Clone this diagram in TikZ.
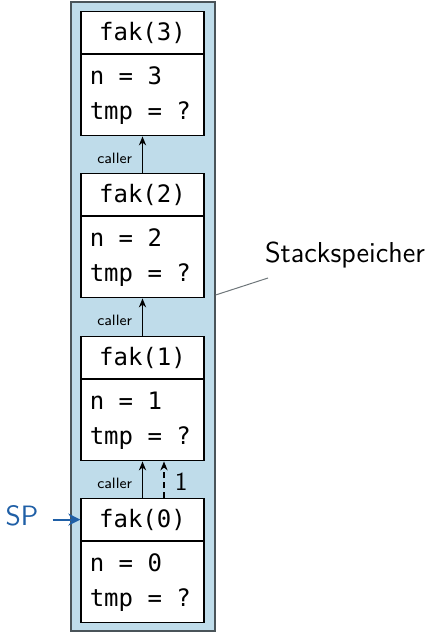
\documentclass[tikz,border=0pt]{standalone}
\usepackage{fontspec}
\setmonofont{DejaVu Sans Mono}
\usetikzlibrary{arrows.meta}
\definecolor{stackfill}{HTML}{BFDCEA}
\definecolor{stackedge}{HTML}{4A5459}
\definecolor{spblue}{HTML}{1F5FA6}
\tikzset{
  frametitle/.style={draw=black, line width=0.6pt, fill=white, minimum width=61.5pt,
    minimum height=21pt, inner sep=0pt, font=\ttfamily\fontsize{12}{14}\selectfont},
  framebody/.style={draw=black, line width=0.6pt, fill=white, minimum width=61.5pt,
    minimum height=40.5pt, inner sep=0pt, anchor=north},
  vars/.style={anchor=north west, align=left, inner sep=0pt,
    font=\ttfamily\fontsize{12}{17.5}\selectfont},
  link/.style={line width=0.6pt, -{Stealth[length=4.5pt,width=3.6pt]}},
  retlink/.style={link, dash pattern=on 3pt off 2pt},
  smalllabel/.style={font=\sffamily\fontsize{7.5}{8}\selectfont, inner sep=0pt},
  splink/.style={draw=spblue, line width=1pt, -{Stealth[length=6pt,width=6pt]}},
}
\begin{document}
\begin{tikzpicture}[x=0.5pt,y=-0.5pt]
\useasboundingbox (0,0) rectangle (431,632);
% stack area
\node[draw=stackedge, line width=0.8pt, fill=stackfill, minimum width=72pt,
  minimum height=314.5pt, inner sep=0pt, anchor=north west] (stack) at (70,1) {};
% frames
\foreach \k/\top in {3/11, 2/173, 1/336, 0/498}{
  \node[frametitle, anchor=north] (h\k) at (142.5,\top) {fak(\k)};
  \node[framebody] (b\k) at (h\k.south) {};
  \node[vars] (v\k) at ([xshift=4.5pt,yshift=-6pt]b\k.north west) {n = \k\\tmp = ?};
}
% caller links
\foreach \lo/\hi in {2/3, 1/2, 0/1}{
  \draw[link] (h\lo.north) -- (b\hi.south);
  \node[smalllabel, anchor=east] (c\lo) at ([xshift=-5pt,yshift=-11pt]b\hi.south) {caller};
}
% return value
\draw[retlink] ([xshift=10.75pt]h0.north) -- ([xshift=10.75pt]b1.south);
\node[font=\sffamily\fontsize{13}{14}\selectfont, inner sep=0pt, anchor=west] (ret)
  at ([xshift=16pt,yshift=-10pt]b1.south) {1};
% stack pointer
\node[font=\sffamily\fontsize{14}{16}\selectfont, text=spblue, inner sep=0pt] (sp) at (22,516) {SP};
\draw[splink] ([xshift=7pt]sp.east |- h0.west) -- (h0.west);
% label of the stack area
\node[font=\sffamily\fontsize{14.4}{16}\selectfont, inner sep=0pt] (lbl) at (345,255) {Stackspeicher};
\coordinate (lblfoot) at (268,278);
\draw[stackedge!80, line width=0.5pt] (stack.east |- 0,295) -- (lblfoot);
\end{tikzpicture}
\end{document}
